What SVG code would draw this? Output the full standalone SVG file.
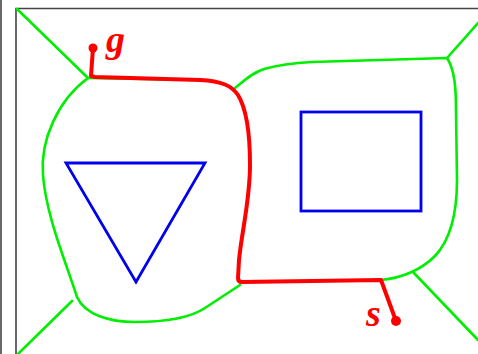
<svg xmlns="http://www.w3.org/2000/svg" width="478" height="354" viewBox="0 0 478 354">
<style>
.frame{stroke:#444;stroke-width:1.6;fill:none}
.g{stroke:#00ee00;stroke-width:2.6;fill:none;stroke-linejoin:round;stroke-linecap:round}
.b{stroke:#0000ee;stroke-width:2.8;fill:none}
.r{stroke:#ff0000;stroke-width:4;fill:none;stroke-linejoin:round}
.lbl{font-family:"Liberation Serif",serif;font-style:italic;font-weight:bold;font-size:38px;fill:#ff0000}
</style>
<rect width="478" height="354" fill="#fff"/>
<g id="frame">
<line class="frame" x1="1" y1="0" x2="1" y2="354"/>
<polyline class="frame" points="16,354 16,8.5 478,8.5"/>
</g>
<g id="connectors">
<line class="g" x1="17" y1="9" x2="88" y2="78"/>
<line class="g" x1="72" y1="301" x2="18" y2="354"/>
<line class="g" x1="447" y1="58" x2="478" y2="23"/>
<line class="g" x1="413" y1="272" x2="478" y2="340"/>
</g>
<g id="cell-left">
<path class="g" d="M88,78 C58,100 40,140 43,175 C46,215 65,260 77,297 C85,315 110,322 135,322 C165,322 190,318 205,308 L240,285"/>
<path class="g" d="M88,78 L200,80 C222,81 232,86 238,95"/>
<polygon class="b" points="66,163 205,163 136,282"/>
</g>
<g id="cell-right">
<path class="g" d="M235,88 C245,80 252,73 264,69 C278,65 292,63 312,62 L447,58 C455,70 456,90 456,110 L457,180 C457,210 452,238 435,256 C420,271 400,278 381,280"/>
<rect class="b" x="301" y="112" width="120" height="99"/>
</g>
<g id="path">
<path class="r" d="M93,48 L91,76 L95,77 L200,80 C222,81 232,86 238,95 C246,108 250,135 250,165 C250,200 242,230 239,260 L238,278 Q238,282 242,282 L381,280 L396,321"/>
<circle cx="93" cy="48" r="4.5" fill="#ff0000"/>
<circle cx="396" cy="321" r="5" fill="#ff0000"/>
</g>
<g id="labels">
<text class="lbl" x="106" y="52">g</text>
<text class="lbl" x="366" y="326">s</text>
</g>
</svg>
